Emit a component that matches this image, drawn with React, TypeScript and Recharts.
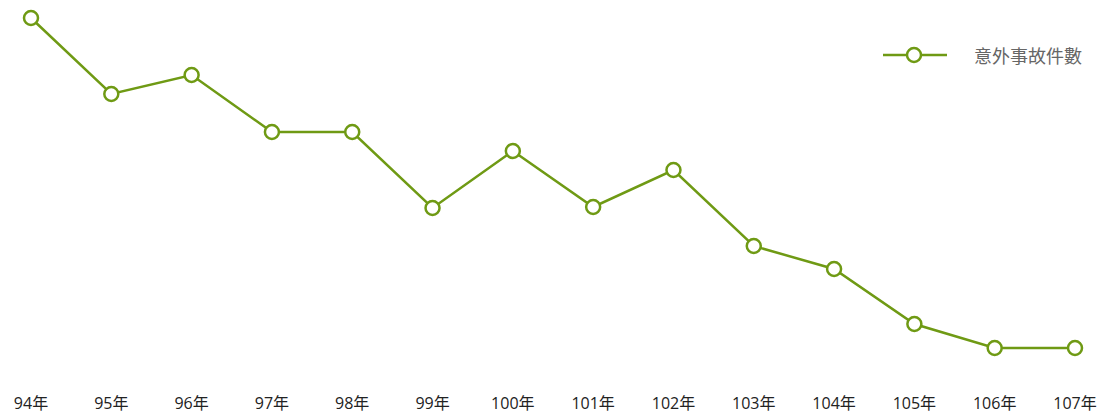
import React from 'react';
import { LineChart, Line, XAxis, YAxis } from 'recharts';

const years = ['94年', '95年', '96年', '97年', '98年', '99年', '100年', '101年', '102年', '103年', '104年', '105年', '106年', '107年'];
const accidents = [382, 306, 325, 268, 268, 192, 249, 193, 230, 154, 131, 76, 52, 52];

const data = years.map((year, i) => ({ year, accidents: accidents[i] }));

const GREEN = '#6f9a14';
const FONT = '"Open Sans", "Noto Sans CJK TC", sans-serif';

function LegendBox() {
  return (
    <div
      style={{
        position: 'absolute',
        top: 42,
        left: 883,
        display: 'flex',
        alignItems: 'center',
        fontFamily: FONT,
      }}
    >
      <svg width={64} height={20}>
        <line x1={0} y1={10} x2={64} y2={10} stroke={GREEN} strokeWidth={2.5} />
        <circle cx={31} cy={10} r={7} fill="#fff" stroke={GREEN} strokeWidth={2.5} />
      </svg>
      <span style={{ marginLeft: 27, fontSize: 18, color: '#666' }}>意外事故件數</span>
    </div>
  );
}

export default function App() {
  return (
    <div style={{ position: 'relative', width: 1105, height: 414 }}>
      <style>{'body{margin:0}'}</style>
      <LineChart
        width={1105}
        height={414}
        data={data}
        margin={{ top: 18, right: 30, left: 31, bottom: 0 }}
      >
        <XAxis
          dataKey="year"
          axisLine={false}
          tickLine={false}
          height={66}
          tickMargin={44}
          interval={0}
          tick={{ fill: '#222', fontSize: 16, fontFamily: FONT }}
        />
        <YAxis hide domain={[52, 382]} />
        <Line
          type="linear"
          dataKey="accidents"
          stroke={GREEN}
          strokeWidth={2.5}
          dot={{ r: 7, fill: '#fff', stroke: GREEN, strokeWidth: 2.5 }}
          activeDot={false}
          isAnimationActive={false}
        />
      </LineChart>
      <LegendBox />
    </div>
  );
}
